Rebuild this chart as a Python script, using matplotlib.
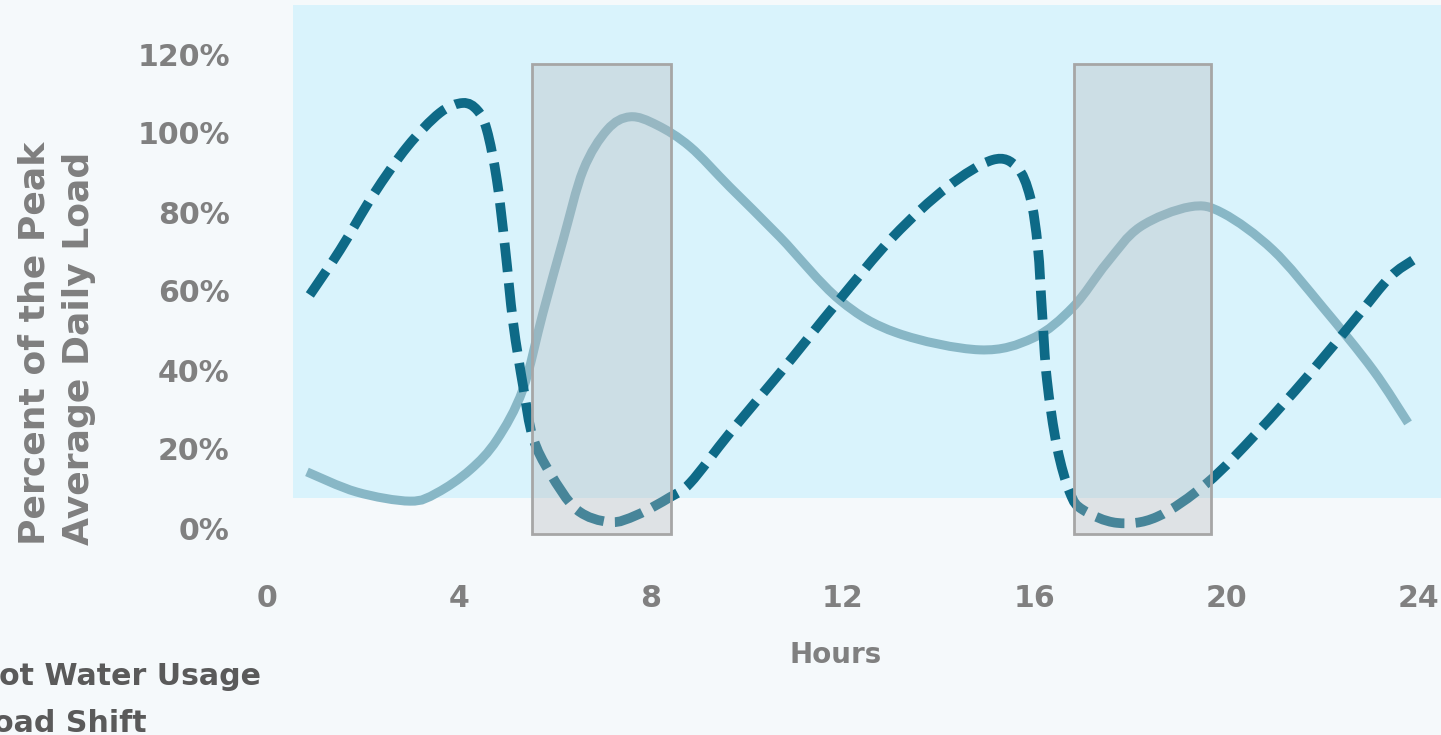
import matplotlib.pyplot as plt
import matplotlib.transforms as mtransforms
import numpy as np
from matplotlib.path import Path
from matplotlib.patches import PathPatch, Rectangle

# hot water usage over the day (hour, % of peak average daily load)
usage_hours = [1.00, 2.04, 3.15, 3.71, 4.40, 4.96, 5.50, 5.92, 6.34, 6.76, 7.26, 7.74,
               8.30, 8.99, 9.82, 10.86, 12.11, 13.30, 15.03, 16.14, 16.97, 17.68,
               18.37, 19.41, 20.10, 21.14, 22.18, 23.23, 23.96]
usage_load = [14.2, 9.1, 6.8, 8.9, 14.7, 22.3, 35.0, 54.4, 72.9, 90.6, 100.8, 104.1,
              102.0, 96.5, 86.3, 73.7, 57.7, 49.4, 45.1, 48.1, 55.9, 67.1,
              76.2, 81.3, 79.7, 70.4, 55.9, 40.0, 26.6]

# shifted load
shift_hours = [1.06, 1.69, 2.38, 3.09, 3.77, 4.25, 4.55, 4.75, 4.96, 5.13, 5.30, 5.51,
               5.71, 6.07, 6.63, 7.32, 7.88, 8.57, 8.99, 9.82, 10.86, 12.05, 13.22,
               14.35, 15.30, 15.80, 16.08, 16.24, 16.33, 16.43, 16.64, 16.91, 17.18,
               17.89, 18.72, 19.77, 20.81, 21.85, 22.89, 23.58, 24.06]
shift_load = [59.0, 70.4, 84.3, 96.5, 105.1, 107.6, 105.8, 100.8, 88.1, 71.1, 51.9, 35.7,
              23.0, 13.9, 4.6, 1.5, 3.3, 7.8, 11.4, 24.1, 39.2, 57.0, 73.7,
              86.3, 93.2, 91.4, 83.8, 71.1, 54.4, 37.5, 20.5, 8.9, 4.6,
              1.3, 2.8, 11.4, 24.1, 38.2, 53.4, 63.5, 67.8]

# peak windows where load is moved away
windows = [(5.7, 8.6), (17.0, 19.85)]
window_low, window_high = -1.5, 117.5

x_ticks = [0, 4, 8, 12, 16, 20, 24]
y_ticks = [0, 20, 40, 60, 80, 100, 120]
legend_labels = ["Hot Water Usage", "Load Shift"]


def smooth_path(xs, ys):
    # Catmull-Rom through the points, written as cubic bezier segments
    pts = np.column_stack([xs, ys])
    ext = np.vstack([pts[0], pts, pts[-1]])
    verts = [pts[0]]
    codes = [Path.MOVETO]
    for i in range(len(pts) - 1):
        p0, p1, p2, p3 = ext[i], ext[i + 1], ext[i + 2], ext[i + 3]
        verts += [p1 + (p2 - p0) / 6, p2 - (p3 - p1) / 6, p2]
        codes += [Path.CURVE4] * 3
    return Path(verts, codes)


W, H = 1441, 735
fig = plt.figure(figsize=(W / 100, H / 100), dpi=100, facecolor="#f5f9fb")
ax = fig.add_axes([259 / W, (H - 528) / H, 1151 / W, 474 / H])
ax.set_facecolor("none")
ax.set_xlim(0, 24)
ax.set_ylim(0, 120)
for s in ax.spines.values():
    s.set_visible(False)

# light blue plot band
ax.add_patch(Rectangle((293 / W, (H - 498) / H), 1, 493 / H, transform=fig.transFigure,
                       facecolor="#d9f3fc", edgecolor="none", zorder=0, clip_on=False))

ax.add_patch(PathPatch(smooth_path(usage_hours, usage_load), fill=False,
                       edgecolor="#88b7c6", lw=6.5, capstyle="butt", zorder=2, clip_on=False))
ax.add_patch(PathPatch(smooth_path(shift_hours, shift_load), fill=False,
                       edgecolor="#0e6a87", lw=7, linestyle=(0, (3.0, 1.15)),
                       capstyle="butt", zorder=3, clip_on=False))

for x0, x1 in windows:
    ax.add_patch(Rectangle((x0, window_low), x1 - x0, window_high - window_low,
                           facecolor="#b4b8bc", alpha=0.35, edgecolor="none",
                           zorder=4, clip_on=False))
    ax.add_patch(Rectangle((x0, window_low), x1 - x0, window_high - window_low,
                           facecolor="none", edgecolor="#a6a6a6", lw=2,
                           zorder=5, clip_on=False))

tick_font = dict(fontsize=21.6, fontweight="bold", color="#808080")
ax.set_xticks(x_ticks)
ax.set_xticklabels([str(t) for t in x_ticks], **tick_font)
ax.set_yticks(y_ticks)
ax.set_yticklabels([f"{t}%" for t in y_ticks], **tick_font)
ax.tick_params(axis="x", length=0, pad=40)
ax.tick_params(axis="y", length=0, pad=21)
shift = mtransforms.ScaledTranslation(6 / 72, 0, fig.dpi_scale_trans)
for lbl in ax.get_xticklabels():
    lbl.set_transform(lbl.get_transform() + shift)

fig.text(57 / W, (H - 545) / H, "Percent of the Peak\nAverage Daily Load", rotation=90,
         ha="center", va="bottom", multialignment="left", fontsize=26,
         fontweight="bold", color="#7f7f7f", linespacing=1.4)
fig.text(836 / W, (H - 655) / H, "Hours", ha="center", va="center", fontsize=20,
         fontweight="bold", color="#808080")

fig.text(-26 / W, (H - 685) / H, legend_labels[0], ha="left", va="baseline",
         fontsize=21.6, fontweight="bold", color="#5a5a5a")
fig.text(-26 / W, (H - 732) / H, legend_labels[1], ha="left", va="baseline",
         fontsize=21.6, fontweight="bold", color="#5a5a5a")

fig.savefig("out.png", dpi=100, facecolor=fig.get_facecolor())
